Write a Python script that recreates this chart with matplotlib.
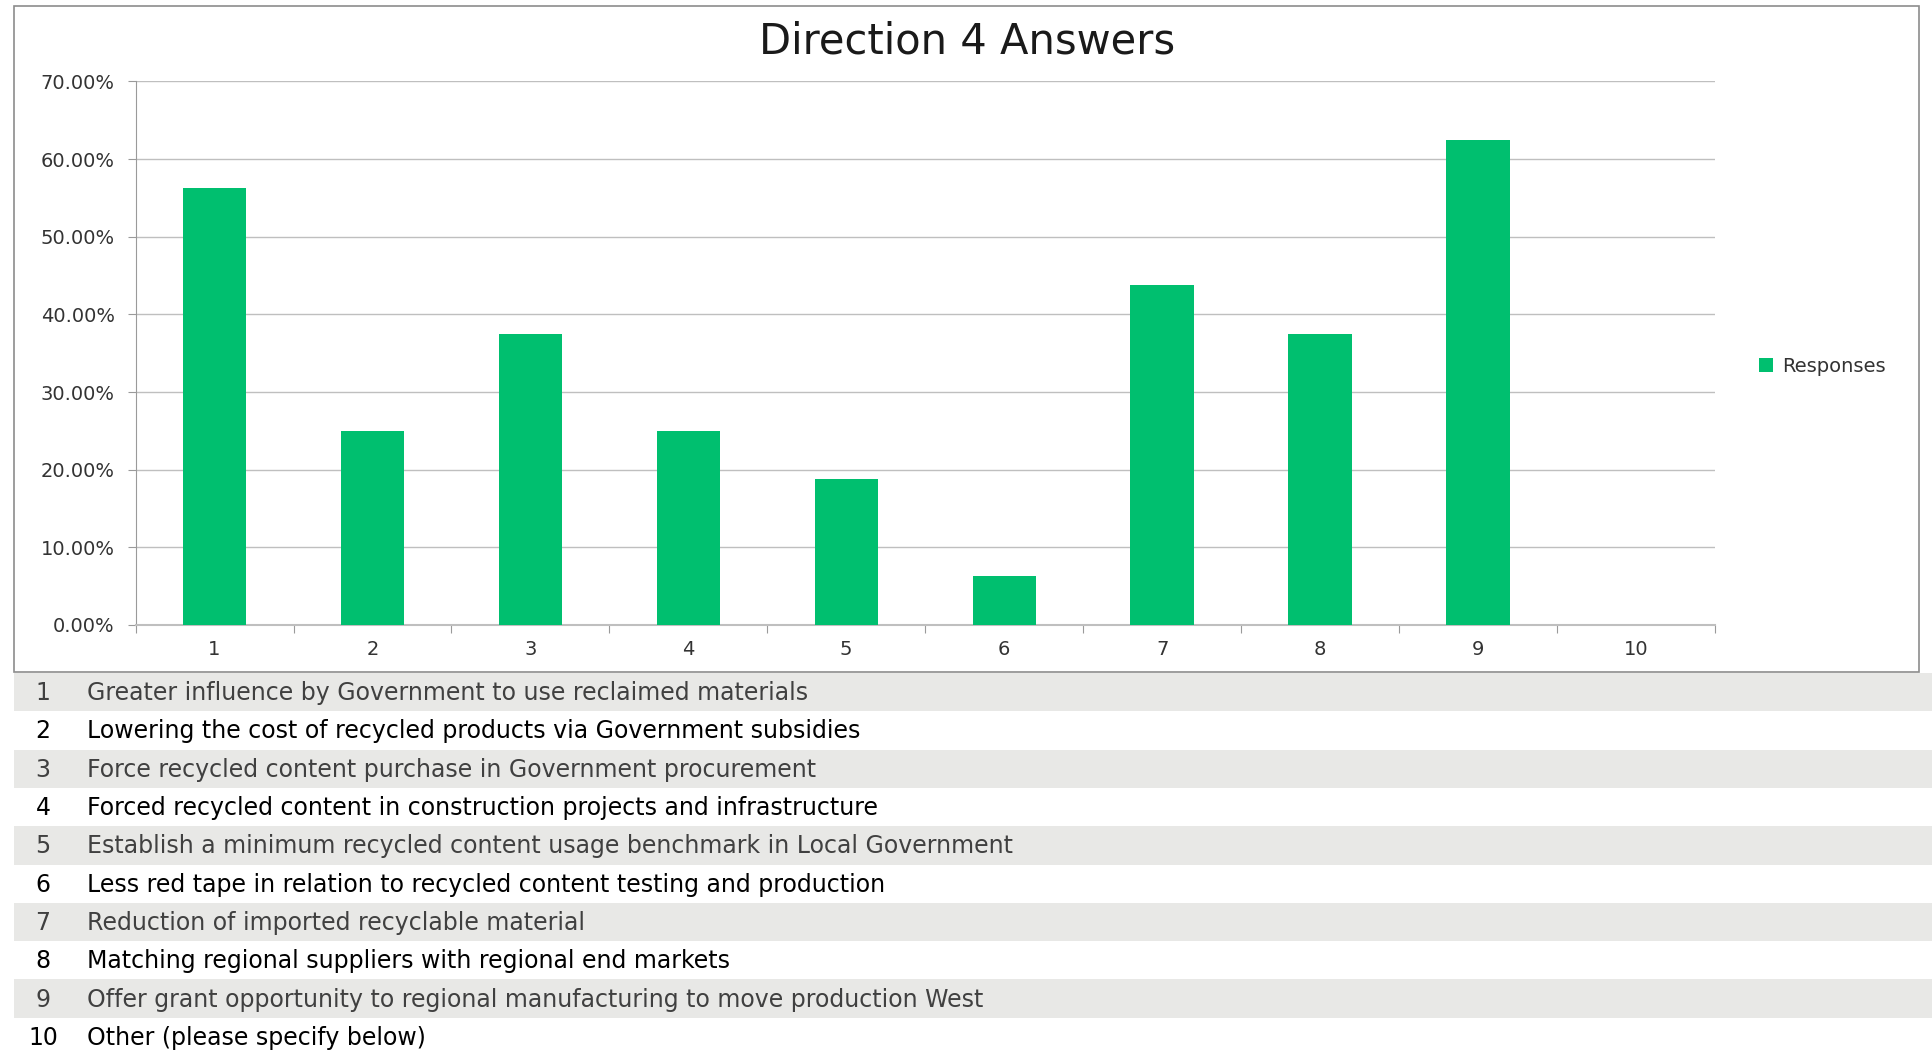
import matplotlib
matplotlib.use("Agg")
import matplotlib.pyplot as plt
import matplotlib.ticker as ticker
from matplotlib.patches import Rectangle
import numpy as np

# Survey answers (share of respondents)
categories = ["1", "2", "3", "4", "5", "6", "7", "8", "9", "10"]
responses = [56.25, 25.0, 37.5, 25.0, 18.75, 6.25, 43.75, 37.5, 62.5, 0.0]
answers = [
    "Greater influence by Government to use reclaimed materials",
    "Lowering the cost of recycled products via Government subsidies",
    "Force recycled content purchase in Government procurement",
    "Forced recycled content in construction projects and infrastructure",
    "Establish a minimum recycled content usage benchmark in Local Government",
    "Less red tape in relation to recycled content testing and production",
    "Reduction of imported recyclable material",
    "Matching regional suppliers with regional end markets",
    "Offer grant opportunity to regional manufacturing to move production West",
    "Other (please specify below)",
]

W, H = 1933, 1056
green = "#00BF6F"
grid_col = "#BFBFBF"
tick_font = "DejaVu Sans"
table_font = "DejaVu Sans"

fig = plt.figure(figsize=(W / 100, H / 100), dpi=100)

# outer chart frame
fig.patches.append(Rectangle((13.6 / W, 1 - 672 / H), (1919 - 13.6) / W, (672 - 6) / H,
                             transform=fig.transFigure, fill=False,
                             edgecolor="#8C8C8C", linewidth=1.2))

ax = fig.add_axes([135.6 / W, 1 - 625 / H, (1714.8 - 135.6) / W, (625 - 81.4) / H])
x = np.arange(1, len(categories) + 1)
ax.bar(x, responses, width=0.4, color=green, zorder=3, label="Responses")

ax.set_xlim(0.5, len(categories) + 0.5)
ax.set_ylim(0, 70)
ax.yaxis.set_major_locator(ticker.MultipleLocator(10))
ax.yaxis.set_major_formatter(ticker.FormatStrFormatter("%.2f%%"))
ax.grid(axis="y", color=grid_col, linewidth=1.0, zorder=0)

# category ticks sit between the bars, labels in the middle
ax.set_xticks(np.arange(0.5, len(categories) + 1, 1))
ax.set_xticklabels([])
ax.set_xticks(x, minor=True)
ax.set_xticklabels(categories, minor=True)
ax.tick_params(axis="x", which="major", length=6, color="#9A9A9A", direction="out")
ax.tick_params(axis="x", which="minor", length=0, pad=11, labelsize=14, labelcolor="#333333")
ax.tick_params(axis="y", length=6, color="#9A9A9A", labelsize=14, labelcolor="#333333", pad=9)
for lab in ax.get_xticklabels(minor=True) + ax.get_yticklabels():
    lab.set_family(tick_font)

for side in ["top", "right"]:
    ax.spines[side].set_visible(False)
ax.spines["left"].set_color("#9A9A9A")
ax.spines["bottom"].set_color("#BFBFBF")
ax.spines["bottom"].set_linewidth(1.5)

fig.text(785 / 0.8116 / W, 1 - 33.5 / 0.8116 / H, "Direction 4 Answers", ha="center", va="center",
         fontsize=30, color="#1A1A1A", family=tick_font)

ax.legend(loc="center left", bbox_to_anchor=(1.017, 0.476), frameon=False,
          handlelength=0.7, handleheight=0.7, handletextpad=0.5,
          prop={"family": tick_font, "size": 14}, labelcolor="#333333")

# numbered answer table below the chart
row_top = 673
row_h = (H - row_top) / len(answers)
for i, (cat, text) in enumerate(zip(categories, answers)):
    y0 = row_top + i * row_h
    odd = i % 2 == 0
    if odd:
        fig.patches.append(Rectangle((13.6 / W, 1 - (y0 + row_h) / H), 1, row_h / H,
                                     transform=fig.transFigure, facecolor="#E8E8E6",
                                     edgecolor="none"))
    col = "#404040" if odd else "#000000"
    yc = 1 - (y0 + row_h / 2 + 1) / H
    fig.text(43 / W, yc, cat, ha="center", va="center", fontsize=17, color=col, family=table_font)
    fig.text(87.5 / W, yc, text, ha="left", va="center", fontsize=17, color=col, family=table_font)

fig.savefig("out.png", dpi=100)
